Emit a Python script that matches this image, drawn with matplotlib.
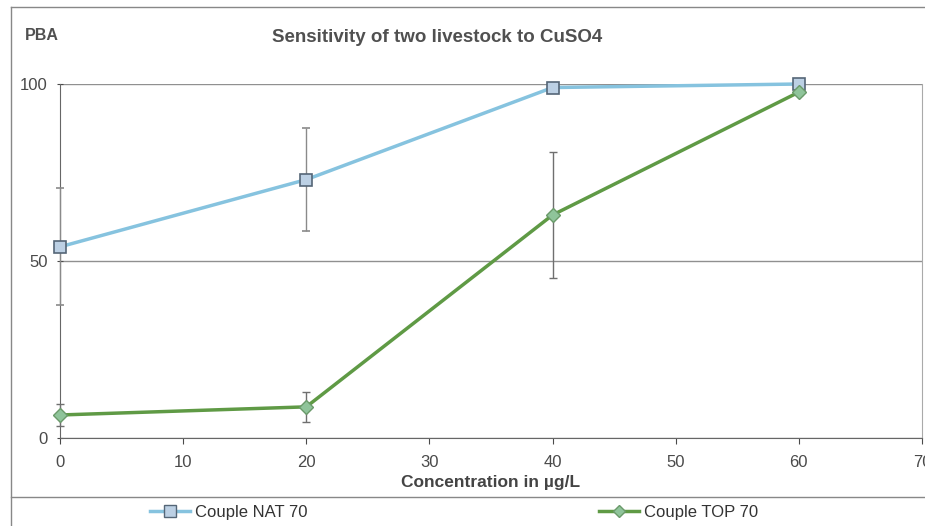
import matplotlib
matplotlib.use("Agg")
import matplotlib.pyplot as plt
from matplotlib.lines import Line2D
import numpy as np

plt.rcParams['font.family'] = ['Liberation Sans', 'DejaVu Sans']

# concentration (µg/L)
conc = [0, 20, 40, 60]

# Couple NAT 70
nat = [54, 73, 99, 100]
nat_err = [16.5, 14.5, 0, 0]

# Couple TOP 70
top = [6.5, 8.8, 63, 97.7]
top_err = [3.2, 4.3, 17.7, 0.8]

x_ticks = [0, 10, 20, 30, 40, 50, 60, 70]
y_ticks = [0, 50, 100]

blue = '#86c3df'
green = '#5f9a45'
txt = '#4a4a4a'

fig = plt.figure(figsize=(9.25, 5.26), dpi=100)
ax = fig.add_axes([60/925, 1-438/526, (922-60)/925, (438-84)/526])

eb1 = ax.errorbar(conc, nat, yerr=nat_err, color=blue, lw=2.5, marker='s', ms=9,
                  mfc='#bcd0e4', mec='#556677', mew=1.2, ecolor='#8a8a8a',
                  elinewidth=1, capsize=3, zorder=3)
eb2 = ax.errorbar(conc, top, yerr=top_err, color=green, lw=2.5, marker='D', ms=7,
                  mfc='#8fc49a', mec='#6a9a6a', mew=1, ecolor='#6f6f6f',
                  elinewidth=1, capsize=3, zorder=3)
for eb in (eb1, eb2):
    for a in eb.lines[0:1] + tuple(eb.lines[1]) + tuple(eb.lines[2]):
        a.set_clip_on(False)

ax.set_xlim(0, 70)
ax.set_ylim(0, 100)
ax.set_xticks(x_ticks)
ax.set_yticks(y_ticks)
ax.tick_params(axis='x', length=4, pad=8, labelsize=12, colors=txt, direction='out')
ax.tick_params(axis='y', length=4, pad=7, labelsize=12, colors=txt, direction='inout')
ax.yaxis.grid(True, color='#909090', lw=1)
ax.set_axisbelow(True)
for s in ['left', 'bottom']:
    ax.spines[s].set_color('#666666')
ax.spines['top'].set_visible(False)
ax.spines['right'].set_color('#aaaaaa')

fig.text(437/925, 1-38/526, 'Sensitivity of two livestock to CuSO4', ha='center', va='center',
         fontsize=13.5, fontweight='bold', color='#505050')
fig.text(25/925, 1-36/526, 'PBA', ha='left', va='center', fontsize=11.5,
         fontweight='bold', color='#505050')
fig.text(491/925, 1-483/526, 'Concentration in µg/L', ha='center', va='center',
         fontsize=12.5, fontweight='bold', color='#444444')

# outer frame and legend separator
fig.add_artist(Line2D([11/925, 11/925], [0, 1-7/526], color='#888888', lw=1))
fig.add_artist(Line2D([11/925, 1], [1-7/526, 1-7/526], color='#888888', lw=1))
fig.add_artist(Line2D([11/925, 1], [1-497/526, 1-497/526], color='#888888', lw=1))

h1 = Line2D([], [], color=blue, lw=2.5, marker='s', ms=8, mfc='#bcd0e4', mec='#556677')
h2 = Line2D([], [], color=green, lw=2.5, marker='D', ms=6, mfc='#8fc49a', mec='#6a9a6a')
leg = fig.legend([h1, h2], ['Couple NAT 70', 'Couple TOP 70'], ncol=2,
                 loc='center', bbox_to_anchor=(454/925, 1-512/526), frameon=False,
                 fontsize=12, handlelength=2.4, handletextpad=0.3, columnspacing=17.5)
for t in leg.get_texts():
    t.set_color('#333333')

fig.savefig('out.png', dpi=100, facecolor='white')
